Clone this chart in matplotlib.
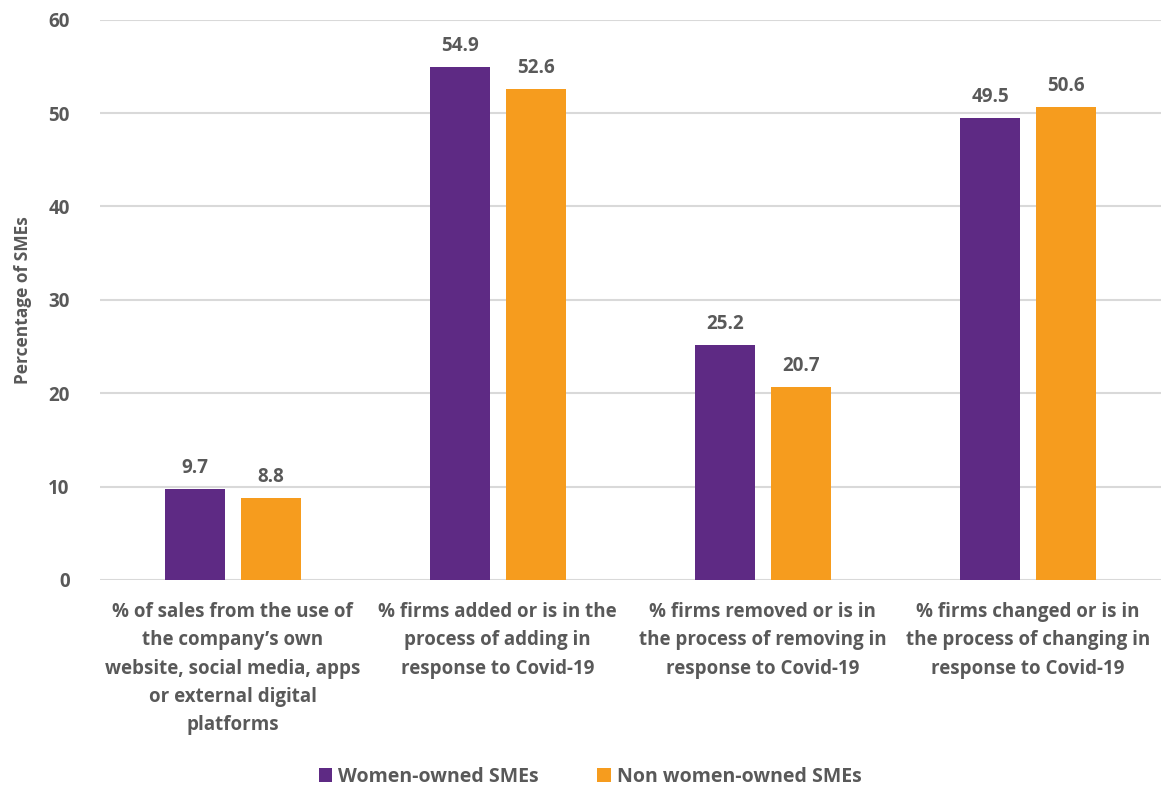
import matplotlib
matplotlib.use('Agg')
import matplotlib.pyplot as plt
import numpy as np

plt.rcParams['font.family'] = ['Open Sans', 'DejaVu Sans']

categories = [
    '% of sales from the use of\nthe company\u2019s own\nwebsite, social media, apps\nor external digital\nplatforms',
    '% firms added or is in the\nprocess of adding in\nresponse to Covid-19',
    '% firms removed or is in\nthe process of removing in\nresponse to Covid-19',
    '% firms changed or is in\nthe process of changing in\nresponse to Covid-19',
]
women = [9.7, 54.9, 25.2, 49.5]
non_women = [8.8, 52.6, 20.7, 50.6]
series_names = ['Women-owned SMEs', 'Non women-owned SMEs']
colors = ['#5E2A84', '#F69C1E']
grey = '#595959'
wt = 'bold'

fig = plt.figure(figsize=(11.64, 7.88), dpi=100)
ax = fig.add_axes([0.086, 0.264, 0.911, 0.711])

x = np.arange(len(categories))
w = 0.226
off = 0.143
b1 = ax.bar(x - off, women, w, color=colors[0], label=series_names[0], zorder=3)
b2 = ax.bar(x + off, non_women, w, color=colors[1], label=series_names[1], zorder=3)

for bars in (b1, b2):
    for r in bars:
        ax.annotate('%.1f' % r.get_height(), (r.get_x() + r.get_width() / 2, r.get_height()),
                    xytext=(0, 8), textcoords='offset points', ha='center', va='bottom',
                    fontsize=13.5, fontweight=wt, color=grey)

ax.set_xlim(-0.5, 3.5)
ax.set_ylim(0, 60)
ax.set_yticks(range(0, 61, 10))
ax.yaxis.grid(True, color='#d9d9d9', linewidth=1.5, zorder=0)
ax.set_axisbelow(True)
for s in ax.spines.values():
    s.set_visible(False)
ax.tick_params(length=0)
ax.tick_params(axis='y', pad=22, labelsize=13.5, labelcolor=grey)
ax.set_xticks(x)
ax.set_xticklabels(categories, fontsize=13.5, color=grey, linespacing=1.55)
ax.tick_params(axis='x', pad=16)
for t in ax.get_xticklabels() + ax.get_yticklabels():
    t.set_fontweight(wt)

ax.set_ylabel('Percentage of SMEs', fontsize=12.5, fontweight=wt, color=grey, labelpad=12)

leg = ax.legend(loc='lower center', bbox_to_anchor=(0.462, -0.4), ncol=2, frameon=False,
                fontsize=14, handlelength=0.7, handleheight=0.7, handletextpad=0.3,
                columnspacing=3.0)
for t in leg.get_texts():
    t.set_color(grey)
    t.set_fontweight(wt)

fig.savefig('out.png', dpi=100)
